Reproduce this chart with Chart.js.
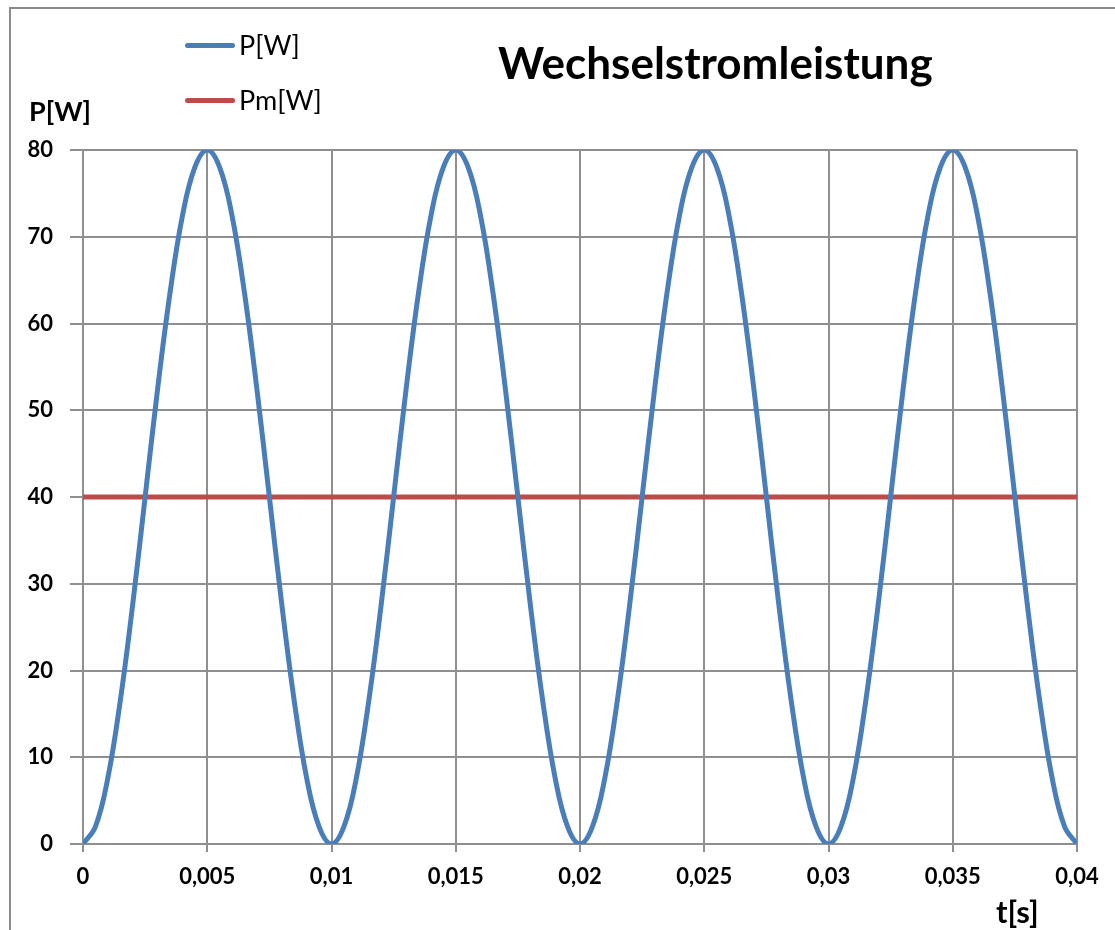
<!DOCTYPE html>
<html>
<head>
<meta charset="utf-8">
<script src="https://cdn.jsdelivr.net/npm/chart.js@4.4.0/dist/chart.umd.min.js"></script>
<style>
  body { margin: 0; background: #fff; }
  #wrap { position: relative; width: 1115px; height: 930px; font-family: Lato, "Open Sans", sans-serif; color: #000; }
  #frame { position: absolute; left: 9px; top: 7px; width: 1120px; height: 940px; border-left: 2px solid #8a8a8a; border-top: 2px solid #8a8a8a; }
  canvas { position: absolute; left: 0; top: 0; }
  .lbl { position: absolute; white-space: nowrap; line-height: 1; }
  .title { left: 498px; top: 40px; font-size: 44px; font-weight: bold; }
  .ytitle { left: 29px; top: 97px; font-size: 27px; font-weight: bold; }
  .xtitle { left: 996px; top: 896px; font-size: 31px; font-weight: bold; }
  .leg { font-size: 27px; }
  .swatch { position: absolute; width: 50px; height: 5px; border-radius: 3px; }
</style>
</head>
<body>
<div id="wrap">
  <div id="frame"></div>
  <canvas id="myChart" width="1115" height="930"></canvas>
  <div class="lbl title">Wechselstromleistung</div>
  <div class="lbl ytitle">P[W]</div>
  <div class="lbl xtitle">t[s]</div>
  <div class="swatch" style="left:185px; top:43px; background:#4a7ebb;"></div>
  <div class="lbl leg" style="left:239px; top:31px;">P[W]</div>
  <div class="swatch" style="left:185px; top:98px; background:#be4b48;"></div>
  <div class="lbl leg" style="left:239px; top:86px;">Pm[W]</div>
</div>
<script>
// Zeitpunkte in s
const zeit = [
  0, 0.0005, 0.001, 0.0015, 0.002, 0.0025, 0.003, 0.0035, 0.004, 0.0045,
  0.005, 0.0055, 0.006, 0.0065, 0.007, 0.0075, 0.008, 0.0085, 0.009, 0.0095,
  0.01, 0.0105, 0.011, 0.0115, 0.012, 0.0125, 0.013, 0.0135, 0.014, 0.0145,
  0.015, 0.0155, 0.016, 0.0165, 0.017, 0.0175, 0.018, 0.0185, 0.019, 0.0195,
  0.02, 0.0205, 0.021, 0.0215, 0.022, 0.0225, 0.023, 0.0235, 0.024, 0.0245,
  0.025, 0.0255, 0.026, 0.0265, 0.027, 0.0275, 0.028, 0.0285, 0.029, 0.0295,
  0.03, 0.0305, 0.031, 0.0315, 0.032, 0.0325, 0.033, 0.0335, 0.034, 0.0345,
  0.035, 0.0355, 0.036, 0.0365, 0.037, 0.0375, 0.038, 0.0385, 0.039, 0.0395,
  0.04
];

// Momentanleistung P[W]
const leistung = [
  0, 2, 7.6, 16.5, 27.6, 40, 52.4, 63.5, 72.4, 78,
  80, 78, 72.4, 63.5, 52.4, 40, 27.6, 16.5, 7.6, 2,
  0, 2, 7.6, 16.5, 27.6, 40, 52.4, 63.5, 72.4, 78,
  80, 78, 72.4, 63.5, 52.4, 40, 27.6, 16.5, 7.6, 2,
  0, 2, 7.6, 16.5, 27.6, 40, 52.4, 63.5, 72.4, 78,
  80, 78, 72.4, 63.5, 52.4, 40, 27.6, 16.5, 7.6, 2,
  0, 2, 7.6, 16.5, 27.6, 40, 52.4, 63.5, 72.4, 78,
  80, 78, 72.4, 63.5, 52.4, 40, 27.6, 16.5, 7.6, 2,
  0
];

// Mittlere Leistung Pm[W]
const zeitMittel = [0, 0.04];
const mittel = [40, 40];

const gridFarbe = '#8f8f8f';
const tickFont = { family: 'Lato, "Open Sans", sans-serif', size: 22, weight: 'bold' };

const ctx = document.getElementById('myChart').getContext('2d');
const chart = new Chart(ctx, {
  type: 'line',
  data: {
    datasets: [{
      label: 'P[W]',
      data: zeit.map((t, i) => ({ x: t, y: leistung[i] })),
      borderColor: '#4a7ebb',
      borderWidth: 5,
      pointRadius: 0,
      tension: 0.4,
      fill: false
    }, {
      label: 'Pm[W]',
      data: zeitMittel.map((t, i) => ({ x: t, y: mittel[i] })),
      borderColor: '#be4b48',
      borderWidth: 5,
      pointRadius: 0,
      fill: false
    }]
  },
  options: {
    responsive: false,
    animation: false,
    layout: { padding: { left: 0, top: 150, right: 38, bottom: 0 } },
    plugins: {
      legend: { display: false },
      title: { display: false },
      tooltip: { enabled: false }
    },
    scales: {
      x: {
        type: 'linear',
        min: 0,
        max: 0.04,
        afterFit: (axis) => { axis.height = 86; },
        ticks: {
          stepSize: 0.005,
          color: '#000',
          font: tickFont,
          padding: 12,
          maxRotation: 0,
          callback: (v) => String(Math.round(v * 1000) / 1000).replace('.', ',')
        },
        grid: { color: gridFarbe, lineWidth: 2, tickLength: 8 },
        border: { color: gridFarbe, width: 2 }
      },
      y: {
        min: 0,
        max: 80,
        afterFit: (axis) => { axis.width = 83; },
        ticks: { stepSize: 10, color: '#000', font: tickFont, padding: 17 },
        grid: { color: gridFarbe, lineWidth: 2, tickLength: 13 },
        border: { color: gridFarbe, width: 2 }
      }
    }
  }
});
</script>
</body>
</html>
